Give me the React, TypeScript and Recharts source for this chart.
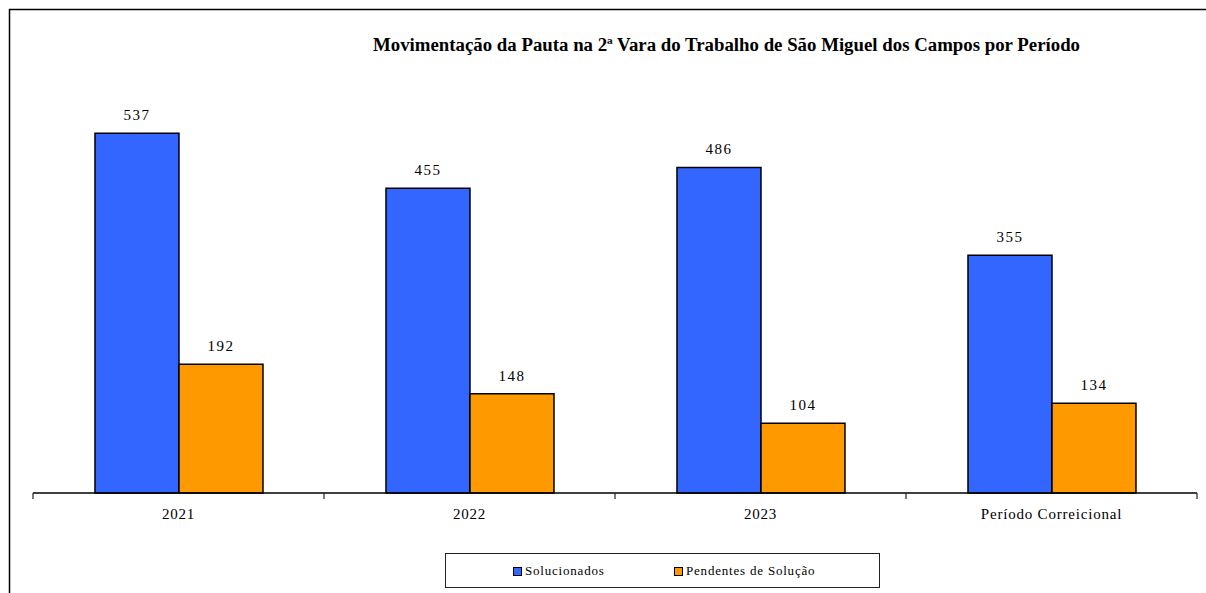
import { Bar, BarChart, LabelList, XAxis, YAxis } from "recharts";

const categories = ["2021", "2022", "2023", "Período Correicional"];
const solucionados = [537, 455, 486, 355];
const pendentes = [192, 148, 104, 134];

const series = [
  { key: "solucionados", name: "Solucionados", color: "#3366FF" },
  { key: "pendentes", name: "Pendentes de Solução", color: "#FF9900" },
];

const TITLE = "Movimentação da Pauta na 2ª Vara do Trabalho de São Miguel dos Campos por Período";
const SERIF = "Liberation Serif, Times New Roman, serif";

const data = categories.map((c, i) => ({
  name: c,
  solucionados: solucionados[i],
  pendentes: pendentes[i],
}));

/** Category tick with boundary tick marks (Excel style) */
function BoundaryTick(props: any) {
  const { x, y, payload, index, visibleTicksCount } = props;
  const half = payload?.offset ?? 145.5;
  const last = index === visibleTicksCount - 1;
  return (
    <g>
      <line x1={x - half} x2={x - half} y1={y} y2={y + 6} stroke="#222" strokeWidth={1.2} />
      {last && <line x1={x + half} x2={x + half} y1={y} y2={y + 6} stroke="#222" strokeWidth={1.2} />}
      <text
        x={x}
        y={y + 26}
        textAnchor="middle"
        style={{ fontFamily: SERIF, fontSize: 15, letterSpacing: 0.8 }}
        fill="#000"
      >
        {payload.value}
      </text>
    </g>
  );
}

export default function App() {
  return (
    <div style={{ position: "absolute", left: 0, top: 0, width: 1206, height: 593, background: "#fff" }}>
      <BarChart
        width={1206}
        height={593}
        data={data}
        margin={{ top: 91, right: 9, bottom: 70, left: 33 }}
        barCategoryGap="21.3%"
        barGap={0}
      >
        <XAxis
          dataKey="name"
          height={30}
          tickLine={false}
          tickSize={0}
          tickMargin={0}
          axisLine={{ stroke: "#000", strokeWidth: 1.5 }}
          tick={<BoundaryTick />}
          interval={0}
        />
        <YAxis hide domain={[0, 600]} />
        {series.map((s) => (
          <Bar key={s.key} dataKey={s.key} name={s.name} fill={s.color} stroke="#000" strokeWidth={1.5} isAnimationActive={false}>
            <LabelList
              dataKey={s.key}
              position="top"
              offset={13}
              fill="#000"
              style={{ fontFamily: SERIF, fontSize: 15, letterSpacing: 1.5 }}
            />
          </Bar>
        ))}
      </BarChart>

      <svg width={1206} height={593} style={{ position: "absolute", left: 0, top: 0, pointerEvents: "none" }}>
        <line x1={9.5} x2={9.5} y1={9} y2={593} stroke="#000" strokeWidth={1.5} />
        <line x1={9} x2={1206} y1={9.5} y2={9.5} stroke="#000" strokeWidth={1.5} />
        <text
          x={373}
          y={51}
          style={{ fontFamily: SERIF, fontWeight: "bold", fontSize: 18 }}
          textLength={707}
          lengthAdjust="spacingAndGlyphs"
          fill="#000"
        >
          {TITLE}
        </text>
      </svg>

      <div
        style={{
          position: "absolute",
          left: 445,
          top: 553,
          width: 433,
          height: 33,
          border: "1px solid #222",
          fontFamily: SERIF,
          fontSize: 13,
          letterSpacing: 0.8,
        }}
      >
        {series.map((s, i) => (
          <div
            key={s.key}
            style={{
              position: "absolute",
              left: i === 0 ? 67 : 228,
              top: 9,
              display: "flex",
              alignItems: "center",
              whiteSpace: "nowrap",
            }}
          >
            <span
              style={{
                display: "inline-block",
                width: 7,
                height: 7,
                background: s.color,
                border: "1.5px solid #000",
                marginRight: 3,
              }}
            />
            <span>{s.name}</span>
          </div>
        ))}
      </div>
    </div>
  );
}
